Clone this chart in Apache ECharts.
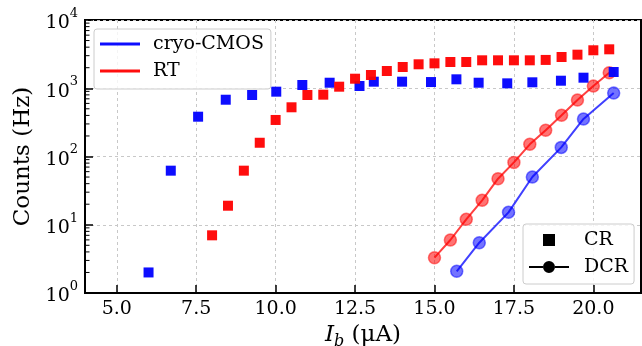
<!DOCTYPE html>
<html>
<head>
<meta charset="utf-8">
<script src="https://cdn.jsdelivr.net/npm/echarts@6/dist/echarts.min.js"></script>
<style>
html,body{margin:0;padding:0;background:#fff;}
#chart{width:642px;height:346px;}
</style>
</head>
<body>
<div id="chart"></div>
<script>
// ---- data ----
const blueCrX = [6.0, 6.7, 7.56, 8.43, 9.26, 10.02, 10.84, 11.70, 12.64, 13.09, 13.98, 14.89, 15.69, 16.39, 17.29, 18.08, 18.98, 19.69, 20.64];
const blueCrY = [2.0, 62, 383, 679, 796, 891, 1116, 1205, 1078, 1248, 1248, 1233, 1352, 1205, 1180, 1222, 1290, 1428, 1730];
const redCrX = [8.0, 8.5, 9.0, 9.5, 10.0, 10.5, 11.0, 11.5, 12.0, 12.5, 13.0, 13.5, 14.0, 14.5, 15.0, 15.5, 16.0, 16.5, 17.0, 17.5, 18.0, 18.5, 19.0, 19.5, 20.0, 20.5];
const redCrY = [7.0, 19, 62, 159, 343, 526, 796, 805, 1054, 1380, 1563, 1790, 2048, 2244, 2318, 2426, 2426, 2567, 2567, 2567, 2567, 2600, 2870, 3104, 3600, 3720];
const redDcrX = [15.0, 15.5, 16.0, 16.5, 17.0, 17.5, 18.0, 18.5, 19.0, 19.5, 20.0, 20.5];
const redDcrY = [3.29, 5.98, 12.0, 22.8, 47.3, 82, 151, 242, 402, 673, 1079, 1690];
const blueDcrX = [15.7, 16.41, 17.33, 18.08, 18.99, 19.69, 20.64];
const blueDcrY = [2.08, 5.46, 15.2, 50, 136, 355, 851];
const xTicks = [5.0, 7.5, 10.0, 12.5, 15.0, 17.5, 20.0];
const yMinorTicks = [2,3,4,5,6,7,8,9,20,30,40,50,60,70,80,90,200,300,400,500,600,700,800,900,2000,3000,4000,5000,6000,7000,8000,9000];
const legendMain = ['cryo-CMOS', 'RT'];
const legendKind = ['CR', 'DCR'];

const zip = (xs, ys) => xs.map((x, i) => [x, ys[i]]);
const FONT = 'DejaVu Serif';
const BLUE = '#0000ff', RED = '#ff0000';
const X_MIN = 4, X_MAX = 21.5;

const chart = echarts.init(document.getElementById('chart'), null, {renderer: 'canvas'});

const lineIcon = 'path://M0,0 L40,0 L40,3 L0,3 Z';
const squareIcon = 'path://M0,0 L12,0 L12,12 L0,12 Z';
const dcrIcon = 'path://M0,5 L14,5 L14,7 L0,7 Z M26,5 L40,5 L40,7 L26,7 Z M14,6 A6,6 0 1,1 26,6 A6,6 0 1,1 14,6 Z';

const option = {
  animation: false,
  backgroundColor: '#fff',
  grid: {left: 85, right: 1, top: 20, bottom: 53, show: true, borderColor: '#000', borderWidth: 2, backgroundColor: 'transparent', containLabel: false, outerBoundsMode: 'none'},
  xAxis: {
    type: 'value', min: X_MIN, max: X_MAX,
    name: '{i|I}{sub|b}{n| (μA)}',
    nameLocation: 'middle', nameGap: 26,
    nameTextStyle: {
      rich: {
        i: {fontFamily: FONT, fontStyle: 'italic', fontSize: 23, color: '#000', lineHeight: 28},
        sub: {fontFamily: FONT, fontStyle: 'italic', fontSize: 16, color: '#000', lineHeight: 16, verticalAlign: 'bottom'},
        n: {fontFamily: FONT, fontSize: 23, color: '#000', lineHeight: 28}
      }
    },
    axisLine: {show: true, lineStyle: {color: '#000', width: 2}},
    axisTick: {show: true, inside: true, length: 8, customValues: xTicks, lineStyle: {color: '#000', width: 1.5}},
    axisLabel: {customValues: xTicks, formatter: v => v.toFixed(1), fontFamily: FONT, fontSize: 19, color: '#000', margin: 7},
    splitLine: {show: true, lineStyle: {color: '#c8c8c8', width: 1, type: [3, 3]}}
  },
  yAxis: {
    type: 'log', logBase: 10, min: 1, max: 10000,
    name: 'Counts (Hz)', nameLocation: 'middle', nameGap: 50,
    nameTextStyle: {fontFamily: FONT, fontSize: 23, color: '#000'},
    axisLine: {show: true, lineStyle: {color: '#000', width: 2}},
    axisTick: {show: true, inside: true, length: 8, lineStyle: {color: '#000', width: 1.5}},
    axisLabel: {
      margin: 7,
      formatter: v => '{b|10}{s|' + Math.round(Math.log10(v)) + '}',
      rich: {
        b: {fontFamily: FONT, fontSize: 19, color: '#000', lineHeight: 26, verticalAlign: 'bottom'},
        s: {fontFamily: FONT, fontSize: 13, color: '#000', lineHeight: 14, verticalAlign: 'top'}
      }
    },
    splitLine: {show: true, lineStyle: {color: '#c8c8c8', width: 1, type: [3, 3]}}
  },
  legend: [
    {
      show: true, orient: 'vertical', left: 94, top: 29, selectedMode: false,
      padding: [5, 7, 8, 6], itemGap: 7, itemWidth: 40, itemHeight: 3,
      backgroundColor: 'rgba(255,255,255,0.8)', borderColor: '#cccccc', borderWidth: 1, borderRadius: 3,
      textStyle: {fontFamily: FONT, fontSize: 19, color: '#000', lineHeight: 20, padding: [0, 0, 0, 8]},
      data: [
        {name: legendMain[0], icon: lineIcon, itemStyle: {color: BLUE}},
        {name: legendMain[1], icon: lineIcon, itemStyle: {color: RED}}
      ]
    },
    {
      show: true, orient: 'vertical', left: 523, top: 224, selectedMode: false,
      padding: [6, 6, 7, 6], itemGap: 7, itemWidth: 40, itemHeight: 12,
      backgroundColor: 'rgba(255,255,255,0.8)', borderColor: '#cccccc', borderWidth: 1, borderRadius: 3,
      textStyle: {fontFamily: FONT, fontSize: 19, color: '#000', lineHeight: 20, padding: [0, 0, 0, 10]},
      data: [
        {name: legendKind[0], icon: squareIcon, itemStyle: {color: '#000', opacity: 1}},
        {name: legendKind[1], icon: dcrIcon, itemStyle: {color: '#000', opacity: 1}}
      ]
    }
  ],
  series: [
    {
      name: legendMain[0], type: 'scatter', symbol: 'rect', symbolSize: 10,
      itemStyle: {color: BLUE, opacity: 0.95}, data: zip(blueCrX, blueCrY), z: 3
    },
    {
      name: legendMain[1], type: 'scatter', symbol: 'rect', symbolSize: 10,
      itemStyle: {color: RED, opacity: 0.95}, data: zip(redCrX, redCrY), z: 3
    },
    {
      name: 'cryo-CMOS DCR', type: 'line', symbol: 'circle', symbolSize: 12, showSymbol: true,
      itemStyle: {color: 'rgba(0,0,255,0.55)', borderColor: 'rgba(0,0,255,0.5)', borderWidth: 1.5},
      lineStyle: {color: 'rgba(0,0,255,0.75)', width: 2},
      data: zip(blueDcrX, blueDcrY), z: 2
    },
    {
      name: 'RT DCR', type: 'line', symbol: 'circle', symbolSize: 12, showSymbol: true,
      itemStyle: {color: 'rgba(255,0,0,0.55)', borderColor: 'rgba(255,0,0,0.5)', borderWidth: 1.5},
      lineStyle: {color: 'rgba(255,0,0,0.75)', width: 2},
      data: zip(redDcrX, redDcrY), z: 2
    },
    {name: legendKind[0], type: 'scatter', data: [], itemStyle: {color: '#000'}},
    {name: legendKind[1], type: 'line', data: [], itemStyle: {color: '#000'}, lineStyle: {color: '#000'}},
    {
      name: 'minor ticks', type: 'custom', silent: true, clip: false, z: 5,
      data: yMinorTicks.map(v => [X_MIN, v]),
      renderItem: (params, api) => {
        const p = api.coord([api.value(0), api.value(1)]);
        return {type: 'line', shape: {x1: p[0], y1: p[1], x2: p[0] + 4.5, y2: p[1]}, style: {stroke: '#000', lineWidth: 1}};
      }
    }
  ]
};
chart.setOption(option);
</script>
</body>
</html>
